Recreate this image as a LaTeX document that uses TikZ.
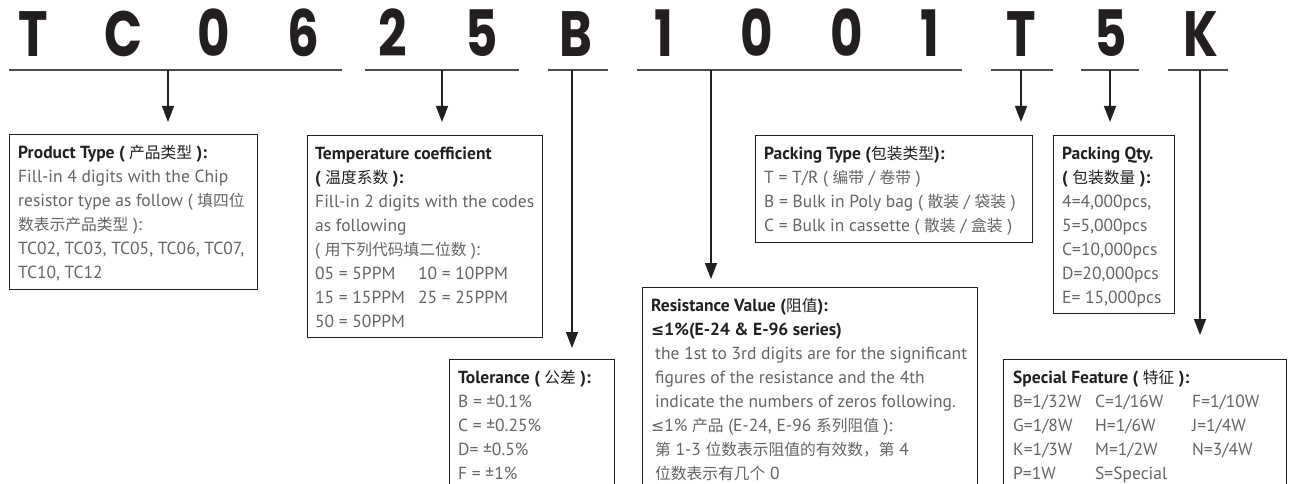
\documentclass[tikz,border=0pt]{standalone}
\usepackage{fontspec}
\setmainfont{PT Sans}
\newfontfamily\zh[Scale=0.9]{Noto Sans CJK SC}
\newfontfamily\topfont{Poppins}
\newfontfamily\symf[Scale=0.9]{DejaVu Sans}
\usetikzlibrary{arrows.meta}
\definecolor{ink}{HTML}{231F20}
\definecolor{bodygray}{HTML}{636466}
\definecolor{ulgray}{HTML}{4D4D4F}
\newcommand{\tb}{\color{ink}\bfseries}
\newcommand{\zhm}{\zh\mdseries}
\newcommand{\fl}{\rule{0pt}{16pt}}
\newcommand{\leqs}{{\symf ≤}}
\newcommand{\bigletter}[1]{\scalebox{0.78}[1]{#1}}
\tikzset{
  bigch/.style={font=\topfont\bfseries\fontsize{64}{64}\selectfont, text=ink, anchor=base, inner sep=0pt},
  ul/.style={draw=ulgray, line width=2pt},
  arr/.style={draw=ink, line width=1.4pt, -{Triangle[length=16pt,width=12pt]}},
  boxs/.style={draw=ink, line width=1.2pt, anchor=north west, inner sep=0pt},
  txt/.style={anchor=north west, inner sep=0pt, align=left, text=bodygray,
    font=\fontsize{17.5}{24}\selectfont}
}
\begin{document}
\begin{tikzpicture}[x=1pt,y=-1pt]
\useasboundingbox (0,0) rectangle (1290,484);
\clip (0,0) rectangle (1290,484);
% top code letters
\node[bigch] (c1) at (33,57) {\bigletter{T}};
\node[bigch] (c2) at (124,57) {\bigletter{C}};
\node[bigch] (c3) at (214,57) {\bigletter{0}};
\node[bigch] (c4) at (303,57) {\bigletter{6}};
\node[bigch] (c5) at (393,57) {\bigletter{2}};
\node[bigch] (c6) at (482,57) {\bigletter{5}};
\node[bigch] (c7) at (576,57) {\bigletter{B}};
\node[bigch] (c8) at (664,57) {\bigletter{1}};
\node[bigch] (c9) at (757,57) {\bigletter{0}};
\node[bigch] (c10) at (847,57) {\bigletter{0}};
\node[bigch] (c11) at (930,57) {\bigletter{1}};
\node[bigch] (c12) at (1021,57) {\bigletter{T}};
\node[bigch] (c13) at (1111,57) {\bigletter{5}};
\node[bigch] (c14) at (1201,57) {\bigletter{K}};
% underlines
\coordinate (u1a) at (9,70);    \coordinate (u1b) at (342,70);
\coordinate (u2a) at (365,70);  \coordinate (u2b) at (519,70);
\coordinate (u3a) at (548,70);  \coordinate (u3b) at (608,70);
\coordinate (u4a) at (637,70);  \coordinate (u4b) at (962,70);
\coordinate (u5a) at (991,70);  \coordinate (u5b) at (1053,70);
\coordinate (u6a) at (1081,70); \coordinate (u6b) at (1139,70);
\coordinate (u7a) at (1168,70); \coordinate (u7b) at (1228,70);
\foreach \i in {1,...,7} { \draw[ul] (u\i a) -- (u\i b); }
% arrow sources
\coordinate (s1) at (168,70);
\coordinate (s2) at (442,70);
\coordinate (s3) at (572,70);
\coordinate (s4) at (711,70);
\coordinate (s5) at (1021,70);
\coordinate (s6) at (1110,70);
\coordinate (s7) at (1200,70);
% boxes
\node[boxs, minimum width=248pt, minimum height=155pt] (pt) at (9,134) {};
\node[boxs, minimum width=235pt, minimum height=202pt] (tc) at (307,135) {};
\node[boxs, minimum width=165pt, minimum height=200pt] (tol) at (449,359) {};
\node[boxs, minimum width=335pt, minimum height=250pt] (rv) at (642,287) {};
\node[boxs, minimum width=277pt, minimum height=107pt] (pk) at (755,135) {};
\node[boxs, minimum width=121pt, minimum height=178pt] (pq) at (1053,135) {};
\node[boxs, minimum width=283pt, minimum height=200pt] (sf) at (1003,359) {};
% arrows
\draw[arr] (s1) -- ([yshift=12pt]s1 |- pt.north);
\draw[arr] (s2) -- ([yshift=13pt]s2 |- tc.north);
\draw[arr] (s3) -- ([yshift=11pt]s3 |- tol.north);
\draw[arr] (s4) -- ([yshift=8pt]s4 |- rv.north);
\draw[arr] (s5) -- ([yshift=13pt]s5 |- pk.north);
\draw[arr] (s6) -- ([yshift=13pt]s6 |- pq.north);
\draw[arr] (s7) -- ([yshift=24pt]s7 |- sf.north);
% texts
\node[txt] (ptt) at (18,142) {\fl{\tb Product Type ( {\zhm 产品类型} ):}\\
Fill-in 4 digits with the Chip\\
resistor type as follow ( {\zh 填四位}\\
{\zh 数表示产品类型} ):\\
TC02, TC03, TC05, TC06, TC07,\\
TC10, TC12};
\node[txt] (tct) at (315,143) {\fl{\tb Temperature coefficient}\\
{\tb ( {\zhm 温度系数} ):}\\
Fill-in 2 digits with the codes\\
as following\\
( {\zh 用下列代码填二位数} ):\\
\makebox[103pt][l]{05 = 5PPM}10 = 10PPM\\
\makebox[103pt][l]{15 = 15PPM}25 = 25PPM\\
50 = 50PPM};
\node[txt] (tolt) at (458,367) {\fl{\tb Tolerance ( {\zhm 公差} ):}\\
B = ±0.1\%\\
C = ±0.25\%\\
D= ±0.5\%\\
F = ±1\%};
\node[txt] (rvt) at (651,295) {\fl{\tb Resistance Value ({\zhm 阻值}):}\\
{\tb {\symf\bfseries ≤}1\%(E-24 \& E-96 series)}\\
\hspace*{4pt}the 1st to 3rd digits are for the significant\\
\hspace*{4pt}figures of the resistance and the 4th\\
\hspace*{4pt}indicate the numbers of zeros following.\\
\leqs1\% {\zh 产品} (E-24, E-96 {\zh 系列阻值} ):\\
\hspace*{4pt}{\zh 第} 1-3 {\zh 位数表示阻值的有效数，第} 4\\
\hspace*{4pt}{\zh 位数表示有几个} 0};
\node[txt] (pkt) at (764,143) {\fl{\tb Packing Type ({\zhm 包装类型}):}\\
T = T/R ( {\zh 编带} / {\zh 卷带} )\\
B = Bulk in Poly bag ( {\zh 散装} / {\zh 袋装} )\\
C = Bulk in cassette ( {\zh 散装} / {\zh 盒装} )};
\node[txt] (pqt) at (1062,143) {\fl{\tb Packing Qty.}\\
{\tb ( {\zhm 包装数量} ):}\\
4=4,000pcs,\\
5=5,000pcs\\
C=10,000pcs\\
D=20,000pcs\\
E= 15,000pcs};
\node[txt] (sft) at (1013,367) {\fl{\tb Special Feature ( {\zhm 特征} ):}\\
\makebox[82pt][l]{B=1/32W}\makebox[97pt][l]{C=1/16W}F=1/10W\\
\makebox[82pt][l]{G=1/8W}\makebox[97pt][l]{H=1/6W}J=1/4W\\
\makebox[82pt][l]{K=1/3W}\makebox[97pt][l]{M=1/2W}N=3/4W\\
\makebox[82pt][l]{P=1W}S=Special};
\end{tikzpicture}
\end{document}
